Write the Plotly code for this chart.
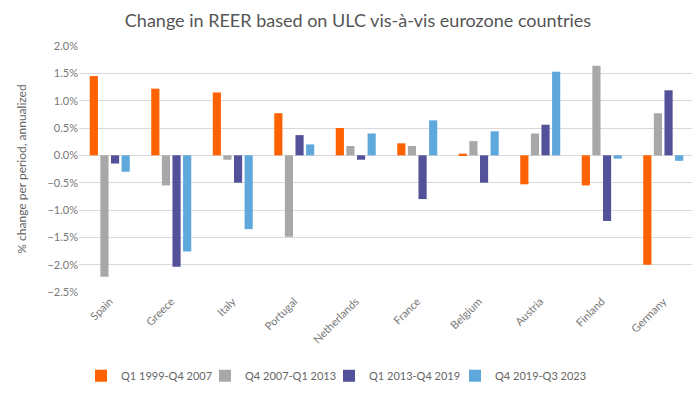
import plotly.graph_objects as go

countries = ["Spain", "Greece", "Italy", "Portugal", "Netherlands", "France", "Belgium", "Austria", "Finland", "Germany"]
p1 = [1.45, 1.22, 1.15, 0.77, 0.50, 0.22, 0.03, -0.53, -0.55, -2.00]
p2 = [-2.22, -0.55, -0.08, -1.49, 0.17, 0.17, 0.26, 0.40, 1.64, 0.77]
p3 = [-0.15, -2.04, -0.50, 0.37, -0.08, -0.80, -0.50, 0.56, -1.20, 1.19]
p4 = [-0.30, -1.76, -1.35, 0.20, 0.40, 0.64, 0.44, 1.53, -0.06, -0.10]
names = ["Q1 1999-Q4 2007", "Q4 2007-Q1 2013", "Q1 2013-Q4 2019", "Q4 2019-Q3 2023"]
colors = ["#FF6200", "#A8A8A8", "#525199", "#5FA8DC"]

L, R = 71, 14
W = 700 - L - R
text_start_px = [119, 243, 367, 493]  # target legend text start x (pixels)

fig = go.Figure()
legend_ids = ["legend", "legend2", "legend3", "legend4"]
for vals, nm, c, lid in zip([p1, p2, p3, p4], names, colors, legend_ids):
    fig.add_trace(go.Bar(x=countries, y=vals, name=nm, marker_color=c, marker_line_width=0, legend=lid))

font = "Lato, 'Noto Sans', sans-serif"
layout_legends = {}
for lid, px in zip(legend_ids, text_start_px):
    layout_legends[lid] = dict(orientation="h", x=(px - 46 - L) / W, xanchor="left", y=-0.34, yanchor="middle",
                               font=dict(size=11, color="#666666"), itemwidth=30, bgcolor="rgba(0,0,0,0)")

fig.update_layout(
    width=700, height=393,
    paper_bgcolor="white", plot_bgcolor="white",
    font=dict(family=font, color="#666666", size=11),
    title=dict(text="Change in REER based on ULC vis-à-vis eurozone countries", x=0.5, xanchor="center",
               y=0.968, yanchor="middle", font=dict(size=18, color="#555555")),
    margin=dict(l=L, r=R, t=38, b=109, autoexpand=False),
    barmode="group", bargap=0.31, bargroupgap=0.23,
    showlegend=True,
    **layout_legends,
)
fig.update_xaxes(tickangle=-45, showgrid=False, showline=False, ticks="", automargin=False,
                 tickfont=dict(size=11, color="#777777"))
fig.update_yaxes(range=[-2.5, 2.0], dtick=0.5, tickformat=".1f", ticksuffix="%", automargin=False,
                 showgrid=True, gridcolor="#D9D9D9", gridwidth=1, zeroline=True,
                 zerolinecolor="#D9D9D9", zerolinewidth=1,
                 title=dict(text="% change per period, annualized", font=dict(size=12, color="#666666"), standoff=18),
                 tickfont=dict(size=11, color="#777777"))
fig.write_html("out.html")
